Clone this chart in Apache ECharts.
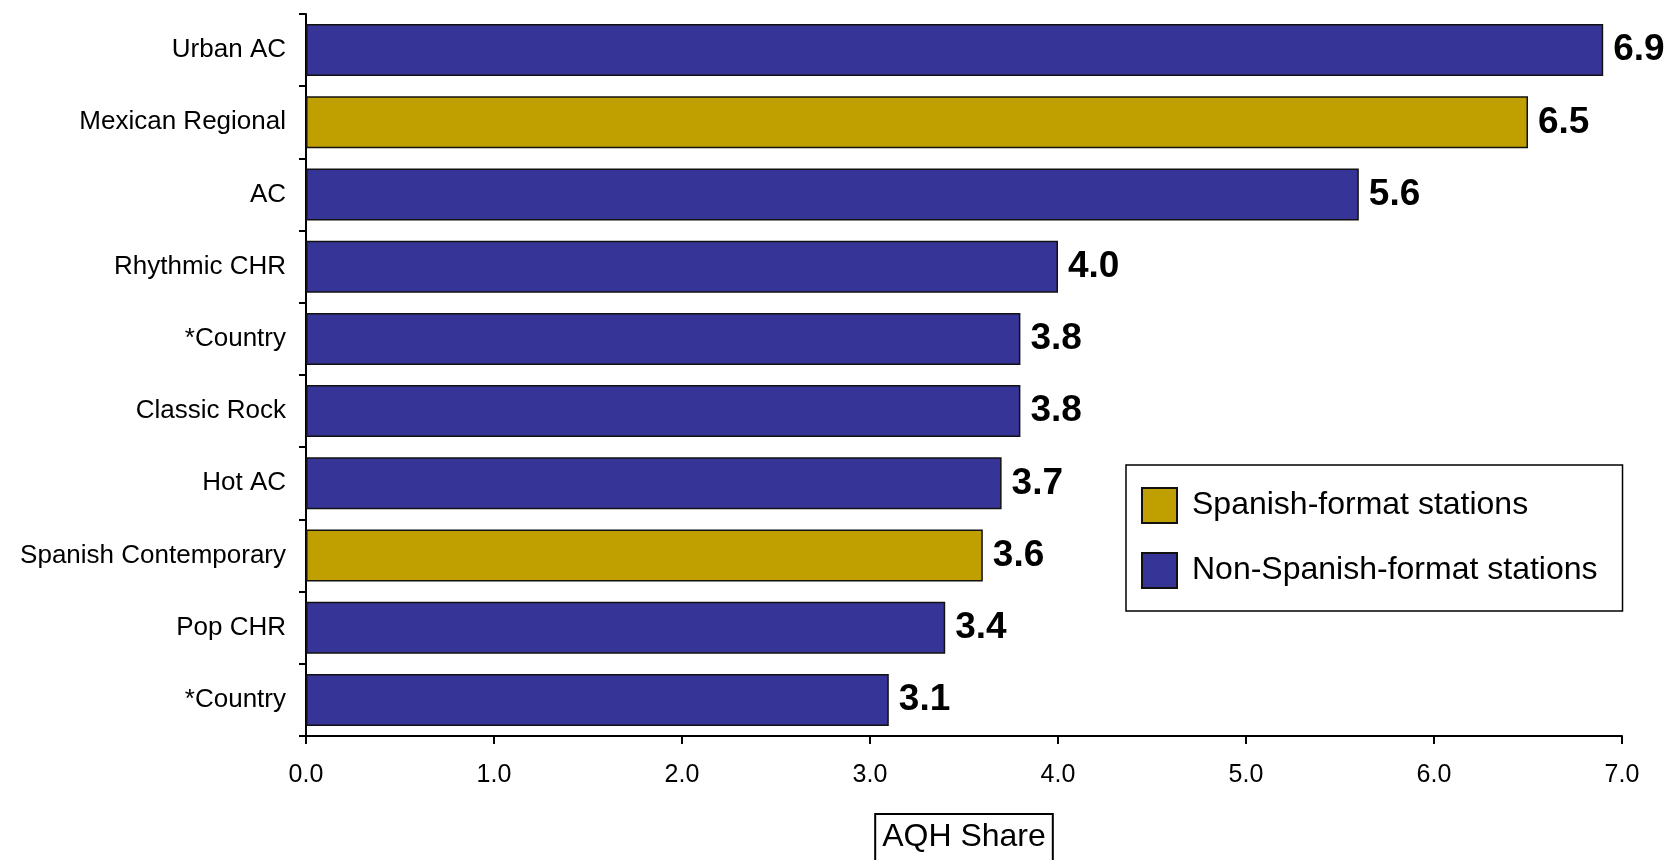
<!DOCTYPE html>
<html>
<head>
<meta charset="utf-8">
<script src="https://cdn.jsdelivr.net/npm/echarts@6/dist/echarts.min.js"></script>
<style>
html,body{margin:0;padding:0;background:#fff;}
#chart{width:1672px;height:860px;}
</style>
</head>
<body>
<div id="chart"></div>
<script>
const categories = ["Urban AC","Mexican Regional","AC","Rhythmic CHR","*Country","Classic Rock","Hot AC","Spanish Contemporary","Pop CHR","*Country"];
const values = [6.9, 6.5, 5.6, 4.0, 3.8, 3.8, 3.7, 3.6, 3.4, 3.1];
const isSpanish = [false, true, false, false, false, false, false, true, false, false];
const seriesNames = ["Spanish-format stations", "Non-Spanish-format stations"];
const xTicks = {min: 0, max: 7, interval: 1};
const axisTitle = "AQH Share";

const spanishData = values.map((v, i) => isSpanish[i] ? v : '-');
const otherData = values.map((v, i) => isSpanish[i] ? '-' : v);

const FONT = 'Liberation Sans, Arial, sans-serif';
const chart = echarts.init(document.getElementById('chart'));
const labelCfg = {
  show: true, position: 'right', distance: 10,
  fontFamily: FONT, fontSize: 37, fontWeight: 'bold', color: '#000',
  formatter: p => Number(p.value).toFixed(1)
};
chart.setOption({
  animation: false,
  backgroundColor: '#fff',
  grid: {left: 306, right: 50, top: 14, bottom: 124, containLabel: false, outerBoundsMode: 'none'},
  legend: {
    orient: 'vertical', left: 1126, top: 465,
    data: seriesNames,
    backgroundColor: '#fff', borderColor: '#000', borderWidth: 1.5,
    padding: [22, 25, 22, 15],
    itemWidth: 35, itemHeight: 35, itemGap: 28,
    textStyle: {fontFamily: FONT, fontSize: 32, color: '#000', padding: [0, 0, 0, 10]},
    icon: 'rect'
  },
  xAxis: {
    type: 'value', min: xTicks.min, max: xTicks.max, interval: xTicks.interval,
    splitLine: {show: false},
    axisLine: {show: true, lineStyle: {color: '#000', width: 2}},
    axisTick: {show: true, inside: false, length: 8, lineStyle: {color: '#000', width: 2}},
    axisLabel: {fontFamily: FONT, fontSize: 25, color: '#000', margin: 27, formatter: v => v.toFixed(1)},
    name: axisTitle, nameLocation: 'middle', nameGap: 79,
    nameTextStyle: {fontFamily: FONT, fontSize: 32, color: '#000', borderColor: '#000', borderWidth: 2, padding: [6, 6, 20, 6], backgroundColor: '#fff'}
  },
  yAxis: {
    type: 'category', data: categories, inverse: true,
    axisLine: {show: true, lineStyle: {color: '#000', width: 2}},
    axisTick: {show: true, inside: false, length: 7, alignWithLabel: false, lineStyle: {color: '#000', width: 2}},
    axisLabel: {fontFamily: FONT, fontSize: 26, color: '#000', margin: 20}
  },
  series: [
    {
      name: seriesNames[0], type: 'bar', stack: 'all', data: spanishData,
      barCategoryGap: '28%',
      itemStyle: {color: '#C0A000', borderColor: '#111', borderWidth: 1.5},
      label: labelCfg
    },
    {
      name: seriesNames[1], type: 'bar', stack: 'all', data: otherData,
      barCategoryGap: '28%',
      itemStyle: {color: '#363597', borderColor: '#111', borderWidth: 1.5},
      label: labelCfg
    }
  ]
});
</script>
</body>
</html>
